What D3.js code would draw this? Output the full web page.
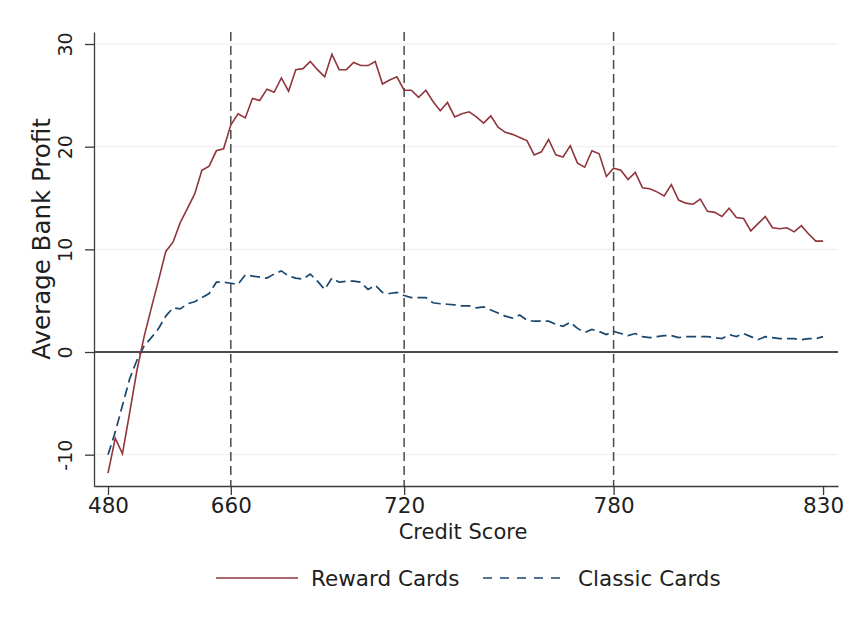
<!DOCTYPE html>
<html>
<head>
<meta charset="utf-8">
<script src="https://cdn.jsdelivr.net/npm/d3@7"></script>
<style>
  body { margin: 0; background: #fff; }
  text { font-family: "DejaVu Sans", sans-serif; fill: #1e1e1e; }
</style>
</head>
<body>
<svg id="chart" width="847" height="622"></svg>
<script>
// bins of credit score, one point per bin (100 bins)
const tickScores = [480, 660, 720, 780, 830]
const tickBins = [0, 17, 41, 70, 99]
const cutoffBins = [17, 41, 70]
const yTicks = [-10, 0, 10, 20, 30]

const reward = [
  -11.8, -8.4, -9.9, -5.9, -1.8, 1.5, 4.3, 7.0, 9.8, 10.7,
  12.6, 14.0, 15.4, 17.7, 18.1, 19.6, 19.8, 22.1, 23.2, 22.8,
  24.7, 24.5, 25.6, 25.3, 26.7, 25.4, 27.5, 27.6, 28.3, 27.5,
  26.8, 29.0, 27.5, 27.5, 28.2, 27.9, 27.9, 28.3, 26.1, 26.5,
  26.8, 25.5, 25.5, 24.8, 25.5, 24.4, 23.5, 24.3, 22.9, 23.2,
  23.4, 22.9, 22.3, 23.0, 21.9, 21.4, 21.2, 20.9, 20.6, 19.2,
  19.5, 20.7, 19.2, 19.0, 20.1, 18.4, 18.0, 19.6, 19.3, 17.1,
  17.9, 17.7, 16.8, 17.5, 16.0, 15.9, 15.6, 15.2, 16.3, 14.8,
  14.5, 14.4, 14.9, 13.7, 13.6, 13.2, 14.0, 13.1, 13.0, 11.8,
  12.5, 13.2, 12.1, 12.0, 12.1, 11.7, 12.3, 11.5, 10.8, 10.8
]

const classic = [
  -10.0, -7.8, -5.2, -2.6, -0.8, 0.6, 1.4, 2.3, 3.5, 4.3,
  4.2, 4.7, 4.9, 5.3, 5.7, 6.8, 6.8, 6.7, 6.6, 7.5,
  7.4, 7.3, 7.2, 7.6, 7.9, 7.4, 7.2, 7.1, 7.6, 6.9,
  6.1, 7.2, 6.8, 6.9, 6.9, 6.8, 6.1, 6.5, 5.8, 5.7,
  5.8, 5.5, 5.3, 5.3, 5.3, 4.8, 4.7, 4.65, 4.6, 4.5,
  4.5, 4.3, 4.4, 4.1, 3.8, 3.5, 3.3, 3.6, 3.1, 3.0,
  3.0, 3.0, 2.7, 2.5, 2.9, 2.3, 1.9, 2.2, 2.0, 1.7,
  2.0, 1.8, 1.6, 1.8, 1.5, 1.4, 1.5, 1.6, 1.6, 1.4,
  1.5, 1.5, 1.5, 1.5, 1.4, 1.3, 1.7, 1.5, 1.8, 1.5,
  1.2, 1.5, 1.4, 1.3, 1.3, 1.3, 1.2, 1.3, 1.3, 1.5
]

const red = "#90353b"
const navy = "#1a476f"

const svg = d3.select("#chart")

const plotL = 94, plotR = 838, plotT = 32, plotB = 486

const x = d3.scaleLinear().domain([-1.94, 101.07]).range([plotL, plotR])
const y = d3.scaleLinear().domain([-13.05, 31.17]).range([plotB, plotT])

// light grid
svg.append("g")
  .selectAll("line")
  .data(yTicks.filter(d => d !== 0))
  .join("line")
  .attr("x1", plotL).attr("x2", plotR)
  .attr("y1", d => y(d)).attr("y2", d => y(d))
  .attr("stroke", "#ececec").attr("stroke-width", 1)

// zero line
svg.append("line")
  .attr("x1", plotL).attr("x2", plotR)
  .attr("y1", y(0)).attr("y2", y(0))
  .attr("stroke", "#111").attr("stroke-width", 1.3)

// cutoff lines
svg.append("g")
  .selectAll("line")
  .data(cutoffBins)
  .join("line")
  .attr("x1", d => x(d)).attr("x2", d => x(d))
  .attr("y1", plotT).attr("y2", plotB)
  .attr("stroke", "#4a4a4a").attr("stroke-width", 1.5)
  .attr("stroke-dasharray", "9,5")

// series
const line = d3.line().x((d, i) => x(i)).y(d => y(d))

svg.append("path")
  .datum(classic)
  .attr("d", line)
  .attr("fill", "none")
  .attr("stroke", navy).attr("stroke-width", 1.7)
  .attr("stroke-dasharray", "10,5")

svg.append("path")
  .datum(reward)
  .attr("d", line)
  .attr("fill", "none")
  .attr("stroke", red).attr("stroke-width", 1.6)

// axes
const xAxis = svg.append("g")
  .attr("transform", "translate(0," + plotB + ")")
  .call(d3.axisBottom(x)
    .tickValues(tickBins)
    .tickFormat((d, i) => tickScores[i])
    .tickSize(9).tickSizeOuter(0).tickPadding(3))
xAxis.selectAll("path, line").attr("stroke", "#3a3a3a").attr("stroke-width", 1.3)
xAxis.selectAll("text").attr("font-size", 21.5).attr("fill", "#1e1e1e")

const yAxis = svg.append("g")
  .attr("transform", "translate(" + plotL + ",0)")
  .call(d3.axisLeft(y)
    .tickValues(yTicks)
    .tickFormat(d => String(d))
    .tickSize(9).tickSizeOuter(0))
yAxis.selectAll("path, line").attr("stroke", "#3a3a3a").attr("stroke-width", 1.3)
yAxis.selectAll("text")
  .attr("transform", "rotate(-90)")
  .attr("x", 0).attr("y", -22).attr("dy", 0)
  .attr("text-anchor", "middle")
  .attr("font-size", 19).attr("fill", "#1e1e1e")

// titles
svg.append("text")
  .attr("transform", "translate(50,239) rotate(-90)")
  .attr("text-anchor", "middle")
  .attr("font-size", 24.5)
  .text("Average Bank Profit")

svg.append("text")
  .attr("x", 463).attr("y", 539)
  .attr("text-anchor", "middle")
  .attr("font-size", 21)
  .text("Credit Score")

// legend
const legend = [
  {label: "Reward Cards", color: red, dash: null, x: 216},
  {label: "Classic Cards", color: navy, dash: "9,8", x: 483}
]
const lg = svg.append("g").selectAll("g").data(legend).join("g")
  .attr("transform", d => "translate(" + d.x + ",578)")
lg.append("line")
  .attr("x1", 0).attr("x2", 82)
  .attr("stroke", d => d.color).attr("stroke-width", 1.7)
  .attr("stroke-dasharray", d => d.dash)
lg.append("text")
  .attr("x", 95).attr("y", 8)
  .attr("font-size", 21.5)
  .text(d => d.label)
</script>
</body>
</html>
